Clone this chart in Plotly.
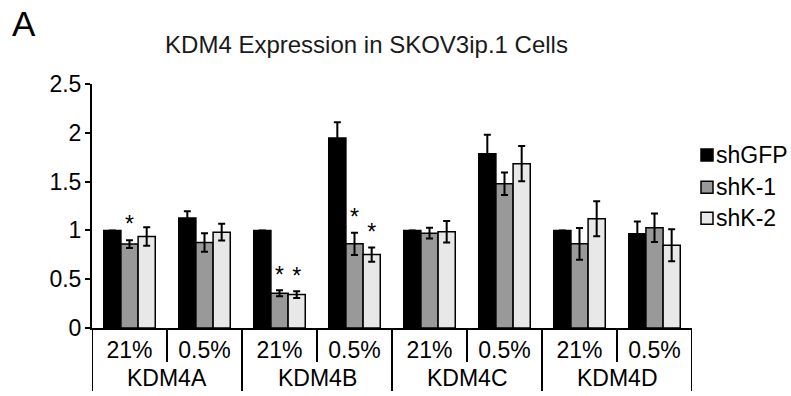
import plotly.graph_objects as go

genes = ["KDM4A", "KDM4B", "KDM4C", "KDM4D"]
conditions = ["21%", "0.5%", "21%", "0.5%", "21%", "0.5%", "21%", "0.5%"]
series_names = ["shGFP", "shK-1", "shK-2"]
colors = ["#000000", "#999999", "#e8e8e8"]

shGFP = [1.0, 1.126, 1.0, 1.947, 1.0, 1.786, 1.0, 0.965]
shK1 = [0.86, 0.876, 0.356, 0.862, 0.972, 1.478, 0.862, 1.027]
shK2 = [0.937, 0.982, 0.342, 0.753, 0.986, 1.684, 1.119, 0.849]
err_shGFP = [0, 0.07, 0, 0.16, 0, 0.195, 0, 0.125]
err_shK1 = [0.04, 0.095, 0.03, 0.115, 0.055, 0.116, 0.163, 0.147]
err_shK2 = [0.095, 0.085, 0.035, 0.073, 0.11, 0.18, 0.18, 0.164]
sig_shK1 = [True, False, True, True, False, False, False, False]
sig_shK2 = [False, False, True, True, False, False, False, False]

values = [shGFP, shK1, shK2]
errors = [err_shGFP, err_shK1, err_shK2]
sigs = [None, sig_shK1, sig_shK2]

FONT = "Liberation Sans, Arial, sans-serif"
FS = 23

x = list(range(len(conditions)))
bargap = 0.313
bw = (1 - bargap) / 3

fig = go.Figure()
for s, (name, vals, errs, col) in enumerate(zip(series_names, values, errors, colors)):
    fig.add_trace(go.Bar(
        x=x, y=vals, name=name, marker=dict(color=col, line=dict(color="black", width=1.5)),
        error_y=dict(type="data", array=errs, visible=True, color="black", thickness=2, width=3.5),
        showlegend=False,
    ))

for s in (1, 2):
    xs, ys = [], []
    for i in x:
        if sigs[s][i]:
            xs.append(i + (s - 1) * bw)
            ys.append(values[s][i] + errors[s][i] + 0.02)
    fig.add_trace(go.Scatter(x=xs, y=ys, mode="text", text=["*"] * len(xs),
                             textposition="top center",
                             textfont=dict(size=23, color="black", family=FONT),
                             showlegend=False, hoverinfo="skip"))

fig.update_layout(
    width=791, height=396,
    margin=dict(l=92, r=99, t=84, b=68),
    paper_bgcolor="white", plot_bgcolor="white",
    barmode="group", bargap=bargap, bargroupgap=0,
    font=dict(family=FONT, color="black", size=FS),
    title=dict(text="KDM4 Expression in SKOV3ip.1 Cells", x=366.5 / 791, xanchor="center",
               y=1 - 45 / 396, yanchor="middle", xref="container", yref="container",
               font=dict(size=24, color="#1a1a1a")),
)
fig.update_xaxes(
    range=[-0.5, 7.5], tickvals=x, ticktext=conditions, showgrid=False, zeroline=False,
    showline=True, linecolor="black", linewidth=2, ticks="", ticklen=0, ticklabelstandoff=0,
    tickfont=dict(size=FS),
)
fig.update_yaxes(
    range=[0, 2.5], tickvals=[0, 0.5, 1, 1.5, 2, 2.5], ticktext=["0", "0.5", "1", "1.5", "2", "2.5"],
    showgrid=False, zeroline=False, showline=True, linecolor="black", linewidth=2,
    ticks="outside", ticklen=5, tickwidth=1.5, tickcolor="black", tickfont=dict(size=FS),
    ticklabelstandoff=-1,
)

shapes = []
line = dict(color="black", width=2)
shapes.append(dict(type="line", xref="x", yref="paper", x0=-0.5, x1=-0.5, y0=0, y1=-0.258, line=line))
for k in range(1, 9):
    xb = -0.5 + k
    y1 = -0.258 if k % 2 == 0 else -0.139
    shapes.append(dict(type="line", xref="x", yref="paper", x0=xb, x1=xb, y0=0, y1=y1, line=line))

annotations = []
for g, gene in enumerate(genes):
    annotations.append(dict(text=gene, xref="x", yref="paper", x=2 * g + 0.5, y=(328 - 378) / 244,
                            showarrow=False, xanchor="center", yanchor="middle", borderpad=0,
                            font=dict(size=FS)))
annotations.append(dict(text="[O<sub>2</sub>]", xref="x", yref="paper", x=7.6, y=(328 - 349) / 244,
                        showarrow=False, xanchor="left", yanchor="middle", font=dict(size=FS)))
annotations.append(dict(text="A", xref="paper", yref="paper", x=(9.5 - 92) / 600,
                        y=(328 - 23) / 244, showarrow=False, xanchor="left", yanchor="middle",
                        font=dict(size=35)))

leg_y = [155, 187.3, 218.3]
for name, col, py in zip(series_names, colors, leg_y):
    yc = (328 - py) / 244
    shapes.append(dict(type="rect", xref="paper", yref="paper",
                       x0=(701 - 92) / 600, x1=(713 - 92) / 600,
                       y0=yc - 6 / 244, y1=yc + 6 / 244,
                       fillcolor=col, line=dict(color="black", width=1.5)))
    annotations.append(dict(text=name, xref="paper", yref="paper", x=(714 - 92) / 600, y=yc,
                            showarrow=False, xanchor="left", yanchor="middle", font=dict(size=FS)))

fig.update_layout(shapes=shapes, annotations=annotations)
fig.write_html("out.html", config={"displayModeBar": False},
               post_script="document.body.style.margin='0';")
